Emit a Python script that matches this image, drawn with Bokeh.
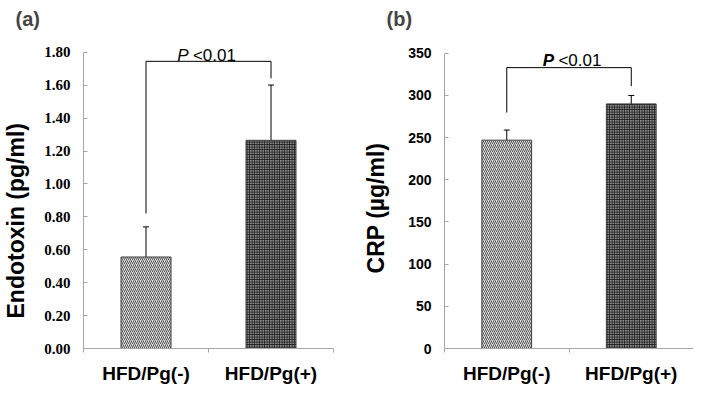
from bokeh.plotting import figure
from bokeh.layouts import row
from bokeh.models import (ColumnDataSource, FixedTicker, NumeralTickFormatter,
                          Whisker, TeeHead, Range1d)
from bokeh.core.properties import value
from bokeh.embed import file_html
from bokeh.resources import INLINE

# ---------------- data ----------------
categories = ["HFD/Pg(-)", "HFD/Pg(+)"]
endotoxin_mean = [0.556, 1.265]
endotoxin_sd = [0.183, 0.336]
crp_mean = [247, 290]
crp_sd = [12, 10]
endotoxin_ticks = [0.0, 0.2, 0.4, 0.6, 0.8, 1.0, 1.2, 1.4, 1.6, 1.8]
crp_ticks = [0, 50, 100, 150, 200, 250, 300, 350]
# significance brackets: [left end, top, right end]
bracket_a = [0.82, 1.745, 1.642]
bracket_b = [279.7, 333.0, 311.0]
p_label = "P"
p_value = "<0.01"

SANS = "Liberation Sans"
SERIF = "Liberation Serif"
AXIS_GRAY = "#a6a6a6"
NBSP = "\u00a0"

fills = ["#e0e0e0", "#8c8c8c"]
hatches = ["/", "+"]
hatch_colors = ["#505050", "#1e1e1e"]
hatch_scales = [4, 2.5]


def make_panel(title, means, sds, ticks, ymax_axis, yend, ylabel, lab_pad,
               lab_standoff, tick_font, tick_size, fmt, width, bright,
               title_offset, bracket, ptext_y, ptext_x, p_bold):
    n = len(categories)
    xs = [i + 0.5 for i in range(n)]
    p = figure(width=width, height=386, output_backend="svg",
               toolbar_location=None, x_range=Range1d(0, n),
               y_range=Range1d(0, yend), min_border_left=80,
               min_border_right=bright, min_border_top=30,
               min_border_bottom=28, title=title)
    p.outline_line_color = None
    p.grid.visible = False
    p.background_fill_color = "white"
    p.border_fill_color = "white"

    p.title.text_font = SANS
    p.title.text_font_size = "20px"
    p.title.text_font_style = "bold"
    p.title.align = "left"
    p.title.offset = title_offset
    p.title.standoff = 11

    for i in range(n):
        p.vbar(x=[xs[i]], top=[means[i]], width=0.4, bottom=0,
               fill_color=fills[i], hatch_pattern=hatches[i],
               hatch_color=hatch_colors[i], hatch_scale=hatch_scales[i],
               hatch_weight=1, line_color="#404040", line_width=1)

    src = ColumnDataSource(dict(x=xs,
                                upper=[m + s for m, s in zip(means, sds)],
                                lower=[m - s for m, s in zip(means, sds)]))
    w = Whisker(base="x", upper="upper", lower="lower", source=src,
                line_color="black", line_width=1,
                upper_head=TeeHead(size=6, line_color="black", line_width=1),
                lower_head=TeeHead(size=6, line_color="black", line_width=1))
    p.add_layout(w)

    # bracket
    p.line(x=[xs[0], xs[0], xs[1], xs[1]],
           y=[bracket[0], bracket[1], bracket[1], bracket[2]],
           line_color="black", line_width=1)
    p.text(x=[ptext_x], y=[ptext_y], text=[p_label], text_font=value(SANS),
           text_font_size="17px",
           text_font_style="bold italic" if p_bold else "italic",
           text_align="left", text_baseline="alphabetic", text_color="black")
    p.text(x=[ptext_x + 0.125], y=[ptext_y], text=[p_value],
           text_font=value(SANS), text_font_size="17px",
           text_font_style="normal", text_align="left",
           text_baseline="alphabetic", text_color="black")

    # x axis
    xa = p.xaxis[0]
    xa.ticker = FixedTicker(ticks=xs, minor_ticks=list(range(n + 1)))
    xa.major_label_overrides = {x: c for x, c in zip(xs, categories)}
    xa.major_tick_in = 0
    xa.major_tick_out = 0
    xa.minor_tick_in = 0
    xa.minor_tick_out = 4
    xa.minor_tick_line_color = AXIS_GRAY
    xa.axis_line_color = AXIS_GRAY
    xa.major_label_text_font = SANS
    xa.major_label_text_font_style = "bold"
    xa.major_label_text_font_size = "19px"
    xa.major_label_text_color = "black"
    xa.major_label_standoff = 10

    # y axis
    ya = p.yaxis[0]
    ya.ticker = FixedTicker(ticks=ticks)
    ya.bounds = (0, ymax_axis)
    if fmt:
        ya.formatter = NumeralTickFormatter(format=fmt)
    ya.major_tick_in = 4
    ya.major_tick_out = 0
    ya.minor_tick_line_color = None
    ya.major_tick_line_color = AXIS_GRAY
    ya.axis_line_color = AXIS_GRAY
    ya.major_label_text_font = tick_font
    ya.major_label_text_font_style = "bold"
    ya.major_label_text_font_size = tick_size
    ya.major_label_text_color = "black"
    ya.major_label_standoff = 13
    ya.axis_label = ylabel + NBSP * lab_pad
    ya.axis_label_text_font = SANS
    ya.axis_label_text_font_style = "bold"
    ya.axis_label_text_font_size = "23px"
    ya.axis_label_text_color = "black"
    ya.axis_label_standoff = lab_standoff
    return p


pa = make_panel("(a)", endotoxin_mean, endotoxin_sd, endotoxin_ticks, 1.8,
                1.902, "Endotoxin (pg/ml)", 9, 12, SERIF, "15px",
                "0.00", 360, 27, -68, bracket_a, 1.782, 0.75, False)
pb = make_panel("(b)", crp_mean, crp_sd, crp_ticks, 350, 371.1,
                "CRP (µg/ml)", 5, 16, SANS, "14px", None, 333, 0, -58,
                bracket_b, 341.8, 0.79, True)

layout = row(pa, pb)
open("out.html", "w").write(file_html(layout, INLINE))
